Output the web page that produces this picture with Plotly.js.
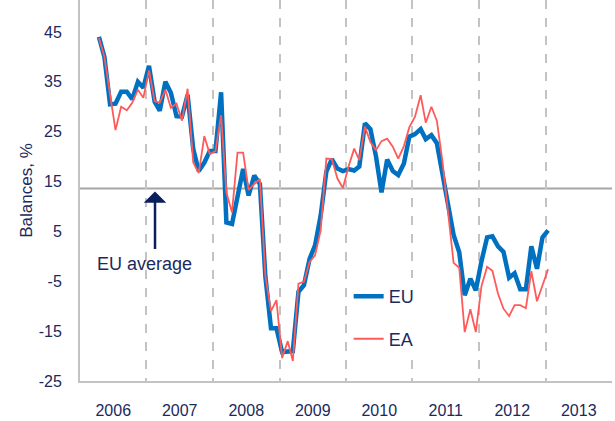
<!DOCTYPE html>
<html>
<head>
<meta charset="utf-8">
<script src="https://cdn.plot.ly/plotly-3.0.1.min.js"></script>
<style>html,body{margin:0;padding:0;background:#fff;}#chart{width:615px;height:421px;}</style>
</head>
<body>
<div id="chart"></div>
<script>
// Monthly observations (Apr 2006 - Jan 2013)
const months = [
  '2006-04-15','2006-05-15','2006-06-15','2006-07-15','2006-08-15','2006-09-15','2006-10-15','2006-11-15','2006-12-15',
  '2007-01-15','2007-02-15','2007-03-15','2007-04-15','2007-05-15','2007-06-15','2007-07-15','2007-08-15','2007-09-15','2007-10-15','2007-11-15','2007-12-15',
  '2008-01-15','2008-02-15','2008-03-15','2008-04-15','2008-05-15','2008-06-15','2008-07-15','2008-08-15','2008-09-15','2008-10-15','2008-11-15','2008-12-15',
  '2009-01-15','2009-02-15','2009-03-15','2009-04-15','2009-05-15','2009-06-15','2009-07-15','2009-08-15','2009-09-15','2009-10-15','2009-11-15','2009-12-15',
  '2010-01-15','2010-02-15','2010-03-15','2010-04-15','2010-05-15','2010-06-15','2010-07-15','2010-08-15','2010-09-15','2010-10-15','2010-11-15','2010-12-15',
  '2011-01-15','2011-02-15','2011-03-15','2011-04-15','2011-05-15','2011-06-15','2011-07-15','2011-08-15','2011-09-15','2011-10-15','2011-11-15','2011-12-15',
  '2012-01-15','2012-02-15','2012-03-15','2012-04-15','2012-05-15','2012-06-15','2012-07-15','2012-08-15','2012-09-15','2012-10-15','2012-11-15','2012-12-15',
  '2013-01-15'
];

const euValues = [
  44, 40, 30.5, 30.6, 33, 33, 31.5, 35, 33.8,
  38.2, 31, 29.2, 35, 32.8, 28.1, 28, 32.4, 21.5, 17.1, 18.8, 21.1,
  21.1, 32.9, 6.8, 6.5, 12, 17.5, 12.2, 16.2, 14.5, -4, -14.4, -14.4,
  -19.2, -19, -19, -7.1, -5.8, -0.5, 2.2, 8.2, 17, 19.5, 17.6, 17.1,
  17.5, 17.2, 18, 26.7, 25.5, 20, 12.8, 19.4, 17.1, 16.3, 18.6, 24,
  24.5, 25.5, 23.5, 24.3, 22.7, 16.5, 10.5, 4.3, 0.8, -7.8, -4.5, -6.8,
  -1, 3.8, 4, 2, 0.9, -4.3, -3.4, -6.6, -6.6, 2, -2.5, 3.8,
  5.2
];

const eaValues = [
  43.8, 40, 32.5, 25.3, 30, 29.3, 30.8, 33.4, 31.8,
  37.3, 31.1, 30.8, 33.4, 29.8, 30.6, 27.2, 33.6, 18.8, 16.7, 24.1, 20.5,
  21.1, 28.3, 12.8, 8.8, 20.8, 20.8, 13.3, 14.5, 15.5, -3.8, -11, -8.8,
  -20.4, -17, -21, -5.5, -5.1, -1.1, 0.2, 5.2, 19.6, 19.5, 15.6, 13.7,
  18, 21.6, 19.3, 26, 22.9, 21.3, 23.1, 23.6, 22, 19.6, 22.1, 25.9,
  28, 32.3, 26.8, 30, 27.2, 19, 8.5, -1.3, -2.3, -15.2, -10.6, -15.2,
  -6, -2.1, -2.9, -7.5, -10.5, -12, -9.8, -9.8, -10.4, -3, -9, -5.8,
  -2.6
];

const euAverage = 13.6;
const seriesNames = ['EU', 'EA'];
const yTicks = [-25, -15, -5, 5, 15, 25, 35, 45];
const yTickText = ['-25', '-15', '-5', '5', '15', '25', '35', '45'];

const navy = '#1b2a5e';
const font = '"Liberation Sans", Arial, sans-serif';

const traces = [
  {
    x: months, y: euValues, name: seriesNames[0], type: 'scatter', mode: 'lines',
    line: {color: '#0070c0', width: 4.5}, legendgroup: 'a'
  },
  {
    x: months, y: eaValues, name: seriesNames[1], type: 'scatter', mode: 'lines',
    line: {color: '#ff5a5a', width: 1.8}, legendgroup: 'b'
  }
];

const layout = {
  width: 615, height: 421,
  margin: {l: 80, r: 3, t: 0, b: 40},
  paper_bgcolor: '#ffffff', plot_bgcolor: '#ffffff',
  showlegend: true,
  legend: {
    x: 0.505, y: 0.27, xanchor: 'left', yanchor: 'top',
    bgcolor: '#ffffff', borderwidth: 0,
    font: {family: font, size: 18, color: navy},
    traceorder: 'grouped', tracegroupgap: 16
  },
  xaxis: {
    type: 'date',
    range: ['2006-01-01', '2014-01-01'],
    tick0: '2006-01-01', dtick: 'M12', tickformat: '%Y',
    ticklabelmode: 'period',
    ticks: '', ticklabelstandoff: 14,
    showgrid: true, griddash: 'dash', gridcolor: '#c3c3c3', gridwidth: 2,
    showline: true, linecolor: '#c3c3c3', linewidth: 2,
    zeroline: false,
    tickfont: {family: font, size: 16, color: navy}
  },
  yaxis: {
    range: [-25, 51.4],
    tickmode: 'array', tickvals: yTicks, ticktext: yTickText,
    ticks: '', ticklabelstandoff: 13,
    showgrid: false, zeroline: false,
    showline: true, linecolor: '#c3c3c3', linewidth: 2,
    tickfont: {family: font, size: 16, color: navy},
    title: {text: 'Balances, %', standoff: 2, font: {family: font, size: 17, color: navy}}
  },
  shapes: [
    {type: 'line', xref: 'paper', x0: 0, x1: 1, yref: 'y', y0: euAverage, y1: euAverage,
     line: {color: '#a6a6a6', width: 2}, layer: 'below'}
  ],
  annotations: [
    {xref: 'paper', yref: 'paper', x: 0.122, y: 0.307, text: 'EU average', showarrow: false,
     font: {family: font, size: 18, color: navy}, xanchor: 'center', yanchor: 'middle'},
    {xref: 'paper', yref: 'y', x: 0.141, y: euAverage - 0.6, text: '', showarrow: true,
     ax: 0, ay: 59, arrowhead: 1, arrowsize: 1.5, arrowwidth: 2.5, arrowcolor: '#0a1f5c'}
  ],
  hovermode: false
};

Plotly.newPlot('chart', traces, layout, {displayModeBar: false, staticPlot: true});
</script>
</body>
</html>
